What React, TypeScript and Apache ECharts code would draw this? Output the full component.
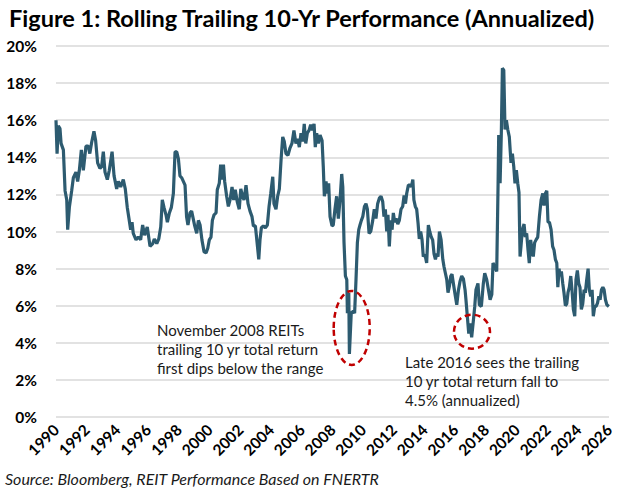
import React, { useEffect, useRef } from "react";
import * as echarts from "echarts";

const TITLE = "Figure 1: Rolling Trailing 10-Yr Performance (Annualized)";
const SOURCE = "Source: Bloomberg, REIT Performance Based on FNERTR";
const NOTE_2008 = "November 2008 REITs\ntrailing 10 yr total return\nfirst dips below the range";
const NOTE_2016 = "Late 2016 sees the trailing\n10 yr total return fall to\n4.5% (annualized)";

// decimal year of each observation
const dates = [
  1990.0, 1990.07, 1990.15, 1990.26, 1990.33, 1990.48, 1990.59, 1990.7, 1990.76, 1990.87,
  1991.02, 1991.13, 1991.3, 1991.41, 1991.52, 1991.65, 1991.78, 1991.95, 1992.1, 1992.2,
  1992.32, 1992.47, 1992.58, 1992.71, 1992.86, 1992.97, 1993.08, 1993.19, 1993.34, 1993.47,
  1993.65, 1993.78, 1993.95, 1994.06, 1994.21, 1994.38, 1994.51, 1994.64, 1994.75, 1994.86,
  1994.95, 1995.03, 1995.21, 1995.36, 1995.51, 1995.64, 1995.77, 1995.94, 1996.12, 1996.3,
  1996.4, 1996.56, 1996.69, 1996.82, 1996.92, 1997.03, 1997.16, 1997.25, 1997.38, 1997.51,
  1997.64, 1997.75, 1997.86, 1997.97, 1998.07, 1998.18, 1998.29, 1998.4, 1998.5, 1998.59,
  1998.72, 1998.83,
  1999.03, 1999.16, 1999.27, 1999.38, 1999.5, 1999.64, 1999.77, 1999.88, 1999.98, 2000.09,
  2000.18, 2000.29, 2000.42, 2000.5, 2000.63, 2000.72, 2000.81, 2000.9, 2000.98, 2001.11,
  2001.22, 2001.33, 2001.46, 2001.57, 2001.67, 2001.8, 2001.93, 2002.03, 2002.13, 2002.24,
  2002.37, 2002.5, 2002.63, 2002.76, 2002.85, 2002.98, 2003.09, 2003.2, 2003.28, 2003.37,
  2003.5, 2003.63, 2003.76, 2003.87, 2003.98, 2004.11, 2004.19, 2004.32, 2004.43, 2004.54,
  2004.65, 2004.76, 2004.86, 2004.97, 2005.1, 2005.23, 2005.36, 2005.49, 2005.62, 2005.73,
  2005.84, 2005.95, 2006.06, 2006.16, 2006.26, 2006.36, 2006.47, 2006.58, 2006.69, 2006.8,
  2006.88, 2006.97, 2007.08, 2007.19, 2007.32, 2007.4, 2007.47, 2007.58, 2007.66, 2007.75,
  2007.84, 2007.97,
  2008.05, 2008.16, 2008.27, 2008.38, 2008.49, 2008.6, 2008.67, 2008.75, 2008.84, 2008.93,
  2008.97, 2009.06, 2009.1, 2009.22, 2009.35, 2009.44, 2009.53, 2009.62, 2009.71, 2009.79,
  2009.88, 2009.97, 2010.08, 2010.18, 2010.27, 2010.38, 2010.49, 2010.62, 2010.72, 2010.83,
  2010.94, 2011.05, 2011.16, 2011.27, 2011.35, 2011.44, 2011.53, 2011.61, 2011.7, 2011.79,
  2011.88, 2011.96, 2012.05, 2012.14, 2012.25, 2012.35, 2012.46, 2012.57, 2012.66, 2012.75,
  2012.83, 2012.94, 2013.05, 2013.13, 2013.23, 2013.3, 2013.39, 2013.48, 2013.57, 2013.65,
  2013.74, 2013.83, 2013.91, 2014.02, 2014.13, 2014.24, 2014.33, 2014.43, 2014.52, 2014.61,
  2014.7, 2014.79, 2014.87, 2014.96, 2015.07, 2015.18, 2015.26, 2015.35, 2015.44, 2015.52,
  2015.61, 2015.7, 2015.78, 2015.87, 2015.98, 2016.09, 2016.2, 2016.3, 2016.41, 2016.52,
  2016.63, 2016.69, 2016.78, 2016.87, 2016.95, 2017.06, 2017.17,
  2017.26, 2017.34, 2017.47, 2017.56, 2017.69, 2017.82, 2017.91, 2018.04, 2018.15, 2018.26,
  2018.37, 2018.45, 2018.56, 2018.69, 2018.78, 2018.82, 2018.91, 2018.99, 2019.06, 2019.15,
  2019.23, 2019.32, 2019.41, 2019.51, 2019.62, 2019.71, 2019.8, 2019.88, 2019.97, 2020.06,
  2020.14, 2020.21, 2020.27, 2020.36, 2020.47, 2020.55, 2020.64, 2020.73, 2020.81, 2020.9,
  2020.99, 2021.07, 2021.16, 2021.25, 2021.36, 2021.47, 2021.58, 2021.69, 2021.77, 2021.86,
  2021.95, 2022.03, 2022.12, 2022.23, 2022.33, 2022.42, 2022.51, 2022.6, 2022.67, 2022.75,
  2022.81, 2022.9, 2022.99, 2023.07, 2023.16, 2023.25, 2023.33, 2023.42, 2023.51, 2023.59,
  2023.68, 2023.77, 2023.85, 2023.94, 2024.03, 2024.11, 2024.2, 2024.29, 2024.38, 2024.46,
  2024.55, 2024.64, 2024.72, 2024.81, 2024.9, 2024.98, 2025.07, 2025.16, 2025.25, 2025.34,
  2025.42, 2025.51, 2025.6, 2025.68, 2025.77, 2025.86, 2025.99,
];

// trailing 10-yr annualized total return, %
const returns = [
  16.0, 14.2, 15.7, 15.55, 14.75, 14.4, 12.2, 11.7, 10.1, 11.3,
  12.2, 12.9, 13.2, 12.7, 13.3, 14.4, 13.3, 14.6, 14.6, 14.2,
  14.8, 15.4, 14.9, 13.7, 13.4, 13.5, 14.3, 13.2, 12.8, 13.3,
  14.3, 13.0, 12.3, 12.7, 12.4, 12.8, 12.3, 11.3, 10.7, 10.1,
  10.5, 9.9, 9.55, 9.7, 9.55, 10.35, 9.8, 10.25, 9.2, 9.35,
  9.6, 9.35, 9.6, 10.25, 11.7, 11.3, 10.9, 10.5, 11.0, 11.3,
  12.05, 14.3, 14.3, 13.9, 13.0, 12.9, 12.7, 12.5, 10.8, 10.35,
  11.0, 11.1,
  10.3, 9.9, 10.6, 10.35, 9.55, 8.9, 8.85, 9.1, 9.55, 9.7,
  10.6, 10.9, 11.0, 12.25, 12.6, 13.6, 12.8, 13.6, 12.7, 11.9,
  11.35, 11.7, 12.4, 11.7, 12.25, 11.6, 11.2, 12.3, 11.95, 11.7,
  12.5, 11.5, 11.1, 10.8, 10.3, 10.3, 9.4, 8.5, 9.55, 10.2,
  10.3, 10.2, 10.35, 11.35, 12.05, 12.95, 11.5, 11.2, 11.9, 12.3,
  13.85, 15.1, 14.85, 14.2, 14.1, 14.5, 14.75, 15.45, 14.75, 15.0,
  14.55, 15.3, 14.85, 15.8, 14.75, 15.3, 15.45, 15.75, 15.45, 15.8,
  14.55, 15.3, 14.75, 15.2, 14.9, 13.5, 11.9, 12.7, 12.05, 12.6,
  10.8, 10.3,
  10.35, 11.2, 11.9, 10.7, 11.7, 13.1, 12.4, 9.4, 7.6, 7.4,
  5.6, 6.7, 3.4, 5.6, 5.7, 5.6, 7.4, 9.4, 10.1, 10.35,
  10.6, 10.8, 11.35, 11.5, 11.2, 9.9, 10.0, 10.6, 11.2, 10.7,
  11.5, 11.8, 11.9, 11.6, 10.8, 11.2, 10.0, 10.9, 9.2, 10.6,
  10.1, 11.0, 10.5, 10.7, 10.4, 10.6, 11.2, 11.35, 11.95, 11.5,
  12.05, 12.5, 12.5, 12.4, 12.8, 11.7, 11.35, 11.2, 10.45, 9.6,
  10.0, 9.55, 8.65, 8.75, 8.3, 10.35, 10.0, 9.7, 9.55, 8.8,
  8.5, 8.8, 8.65, 10.0, 9.55, 8.5, 8.1, 7.75, 7.4, 6.7,
  7.05, 7.6, 7.7, 7.2, 6.6, 6.05, 6.85, 7.3, 7.6, 7.45,
  6.85, 6.3, 5.4, 4.5, 5.05, 4.3, 5.2,
  5.96, 6.86, 7.2, 6.05, 5.96, 7.2, 7.75, 7.4, 6.86, 6.32,
  6.6, 8.3, 8.1, 7.85, 12.6, 15.2, 12.6, 15.3, 18.8, 18.7,
  15.5, 16.0, 15.5, 15.1, 13.7, 14.2, 13.5, 12.6, 13.3, 12.6,
  12.1, 8.65, 9.2, 10.1, 10.4, 9.7, 9.9, 9.0, 8.3, 9.55,
  9.0, 8.65, 9.4, 9.55, 9.7, 10.8, 11.7, 12.05, 11.4, 12.05,
  12.2, 10.5, 10.5, 10.1, 9.2, 9.0, 8.5, 8.3, 7.0, 8.0,
  7.6, 7.85, 7.2, 6.7, 6.0, 6.1, 6.7, 7.0, 7.6, 6.86,
  5.8, 5.43, 7.4, 7.9, 7.2, 7.0, 5.8, 6.1, 6.86, 6.7,
  7.4, 8.0, 6.86, 6.5, 6.86, 5.43, 5.96, 5.96, 6.14, 6.5,
  6.32, 6.86, 7.0, 6.86, 6.32, 6.05, 5.96,
];

// annotated points: [year, value] centres of the dashed rings
const ring2008 = [2009.25, 4.8];
const ring2016 = [2017.08, 4.6];

const LINE_COLOR = "#2D5B70";
const RING_COLOR = "#C00000";
const FONT = "Lato";

export default function App() {
  const ref = useRef<HTMLDivElement>(null);

  useEffect(() => {
    if (!ref.current) return;
    const chart = echarts.init(ref.current, null, { renderer: "svg" });
    chart.setOption({
      animation: false,
      backgroundColor: "#ffffff",
      title: {
        text: TITLE,
        left: 4,
        top: 1,
        textStyle: { fontFamily: FONT, fontWeight: "bold", fontSize: 23.5, color: "#000" },
      },
      grid: { left: 56, right: 15, top: 46, bottom: 77, containLabel: false },
      xAxis: {
        type: "value",
        min: 1990,
        max: 2026,
        interval: 2,
        axisLine: { show: false },
        axisTick: { show: false },
        splitLine: { show: false },
        axisLabel: {
          rotate: 45,
          margin: 10,
          fontFamily: FONT,
          fontWeight: "bold",
          fontSize: 15.5,
          color: "#000",
          formatter: (v: number) => String(v),
        },
      },
      yAxis: {
        type: "value",
        min: 0,
        max: 20,
        interval: 2,
        axisLine: { show: false },
        axisTick: { show: false },
        splitLine: { lineStyle: { color: "#D9D9D9", width: 1.5 } },
        axisLabel: {
          margin: 19,
          fontFamily: FONT,
          fontWeight: "bold",
          fontSize: 15.5,
          color: "#000",
          formatter: "{value}%",
        },
      },
      series: [
        {
          type: "line",
          data: dates.map((d, i) => [d, returns[i]]),
          symbol: "none",
          showSymbol: false,
          lineStyle: { color: LINE_COLOR, width: 3.2 },
          z: 3,
        },
      ],
    });

    const p1 = chart.convertToPixel({ gridIndex: 0 }, ring2008) as number[];
    const p2 = chart.convertToPixel({ gridIndex: 0 }, ring2016) as number[];

    chart.setOption({
      graphic: [
        {
          type: "ellipse",
          shape: { cx: p1[0], cy: p1[1], rx: 18, ry: 37 },
          style: { fill: "none", stroke: RING_COLOR, lineWidth: 2.5, lineDash: [6, 4] },
          z: 10,
        },
        {
          type: "ellipse",
          shape: { cx: p2[0], cy: p2[1], rx: 18, ry: 17 },
          style: { fill: "none", stroke: RING_COLOR, lineWidth: 2.5, lineDash: [6, 4] },
          z: 10,
        },
        {
          type: "text",
          left: 157,
          top: 320,
          style: { text: NOTE_2008, fontFamily: FONT, fontSize: 15, lineHeight: 19, fill: "#1a1a1a" },
          z: 10,
        },
        {
          type: "text",
          left: 405,
          top: 352,
          style: { text: NOTE_2016, fontFamily: FONT, fontSize: 15, lineHeight: 19, fill: "#1a1a1a" },
          z: 10,
        },
        {
          type: "text",
          left: 5,
          top: 470,
          style: { text: SOURCE, fontFamily: FONT, fontStyle: "italic", fontSize: 16, fill: "#1a1a1a" },
          z: 10,
        },
      ],
    });

    return () => chart.dispose();
  }, []);

  return (
    <div
      ref={ref}
      style={{ position: "absolute", left: 0, top: 0, width: 624, height: 494, background: "#fff" }}
    />
  );
}
